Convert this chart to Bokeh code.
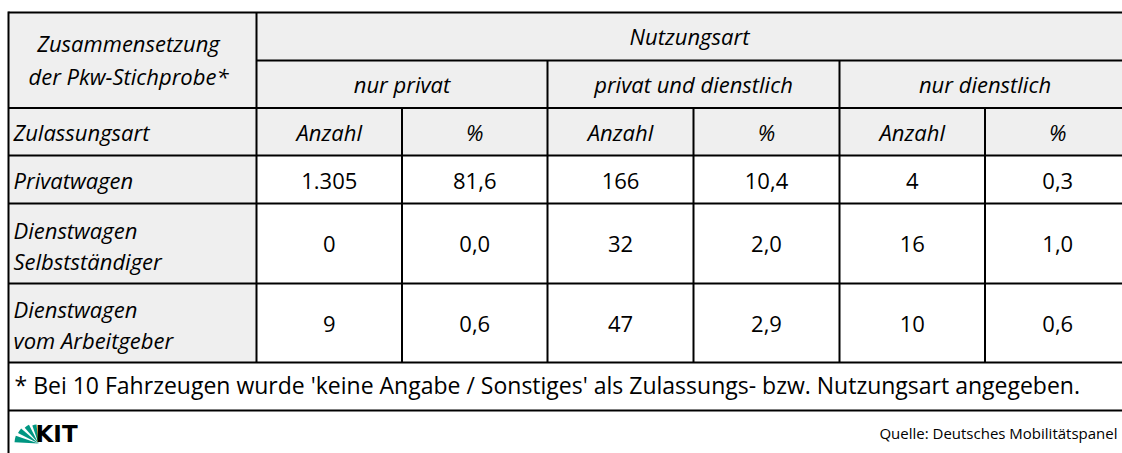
from bokeh.plotting import figure
from bokeh.models import Range1d
from bokeh.core.properties import value
from bokeh.embed import file_html
from bokeh.resources import INLINE

# ---------------- data ----------------
title_left = ["Zusammensetzung", "der Pkw-Stichprobe*"]
title_top = "Nutzungsart"
groups = ["nur privat", "privat und dienstlich", "nur dienstlich"]
subheads = ["Anzahl", "%"]
row_header = "Zulassungsart"
categories = [["Privatwagen"], ["Dienstwagen", "Selbstständiger"], ["Dienstwagen", "vom Arbeitgeber"]]
anzahl_nur_privat = [1305, 0, 9]
pct_nur_privat = [81.6, 0.0, 0.6]
anzahl_privat_dienstlich = [166, 32, 47]
pct_privat_dienstlich = [10.4, 2.0, 2.9]
anzahl_nur_dienstlich = [4, 16, 10]
pct_nur_dienstlich = [0.3, 1.0, 0.6]
footnote = "* Bei 10 Fahrzeugen wurde 'keine Angabe / Sonstiges' als Zulassungs- bzw. Nutzungsart angegeben."
source = "Quelle: Deutsches Mobilitätspanel"

# ---------------- layout (image pixel coordinates) ----------------
W, H = 1122, 453
def Y(yi):
    return H - yi

XE = [8, 256, 401.5, 547, 693, 839, 984.5, 1130]
YE = [12, 60, 107.5, 155, 203, 283, 362, 410]
GRAY = "#efefef"
FONT = value("Open Sans")
FS = "22px"

p = figure(width=W, height=H, x_range=Range1d(0, W), y_range=Range1d(0, H),
           output_backend="svg", toolbar_location=None, min_border=0,
           outline_line_color=None, background_fill_color="white", border_fill_color="white")
p.xaxis.visible = False
p.yaxis.visible = False
p.xgrid.visible = False
p.ygrid.visible = False

# fills
p.quad(left=[XE[0], XE[0]], right=[XE[-1], XE[1]],
       top=[Y(YE[0]), Y(YE[3])], bottom=[Y(YE[3]), Y(YE[6])],
       fill_color=GRAY, line_color=None)

# lines
hx0, hx1, hy = [], [], []
for i, yy in enumerate(YE):
    hx0.append(XE[1] if i == 1 else XE[0])
    hx1.append(XE[-1])
    hy.append(Y(yy))
p.segment(x0=hx0, x1=hx1, y0=hy, y1=hy, line_color="black", line_width=2)
vx, vy0, vy1 = [], [], []
vx.append(XE[0]); vy0.append(Y(YE[0] - 1)); vy1.append(Y(H))
vx.append(XE[1]); vy0.append(Y(YE[0])); vy1.append(Y(YE[6]))
for k in (3, 5):
    vx.append(XE[k]); vy0.append(Y(YE[1])); vy1.append(Y(YE[6]))
for k in (2, 4, 6):
    vx.append(XE[k]); vy0.append(Y(YE[2])); vy1.append(Y(YE[6]))
p.segment(x0=vx, x1=vx, y0=vy0, y1=vy1, line_color="black", line_width=2)

def txt(x, y, t, align="center", style="italic", size=FS, font=FONT, color="black", baseline="middle"):
    p.text(x=[x], y=[Y(y)], text=[t], text_align=align, text_baseline=baseline,
           text_font=font, text_font_style=style, text_font_size=size, text_color=color)

# header
cx0 = (XE[0] + XE[1]) / 2 - 4
txt(cx0, 42, title_left[0])
txt(cx0, 75, title_left[1])
txt((XE[1] + XE[-1]) / 2 - 4, 35, title_top)
for g, name in enumerate(groups):
    txt(XE[2 + 2 * g], 83, name)
    for s in range(2):
        txt((XE[1 + 2 * g + s] + XE[2 + 2 * g + s]) / 2, 131, subheads[s])
txt(13, 131, row_header, align="left")

# data rows
label_y = [[179], [229, 260], [308, 339]]
num_y = [180, 243, 323]
cols = [anzahl_nur_privat, pct_nur_privat, anzahl_privat_dienstlich,
        pct_privat_dienstlich, anzahl_nur_dienstlich, pct_nur_dienstlich]
def fmt(v, is_pct):
    if is_pct:
        return f"{v:.1f}".replace(".", ",")
    return f"{v:,}".replace(",", ".")
for r, cat in enumerate(categories):
    for line, yy in zip(cat, label_y[r]):
        txt(13, yy, line, align="left")
    for c, col in enumerate(cols):
        txt((XE[1 + c] + XE[2 + c]) / 2, num_y[r], fmt(col[r], c % 2 == 1), style="normal")

# footnote + source
txt(14, 384, footnote, align="left", style="normal", size="23px")
txt(1117, 432, source, align="right", style="normal", size="15px")

# KIT logo
px, py = 38, 443
angles = [(96, 109), (117, 131), (139, 153), (161, 177)]
radii = [19, 21, 23, 24]
p.wedge(x=[px] * 4, y=[Y(py)] * 4, radius=radii,
        start_angle=[a[0] for a in angles], end_angle=[a[1] for a in angles],
        start_angle_units="deg", end_angle_units="deg",
        fill_color="#009682", line_color=None)
txt(35, 433, "KIT", style="bold", size="23px", font=value("DejaVu Sans"), align="left")

open("out.html", "w").write(file_html(p, INLINE))
